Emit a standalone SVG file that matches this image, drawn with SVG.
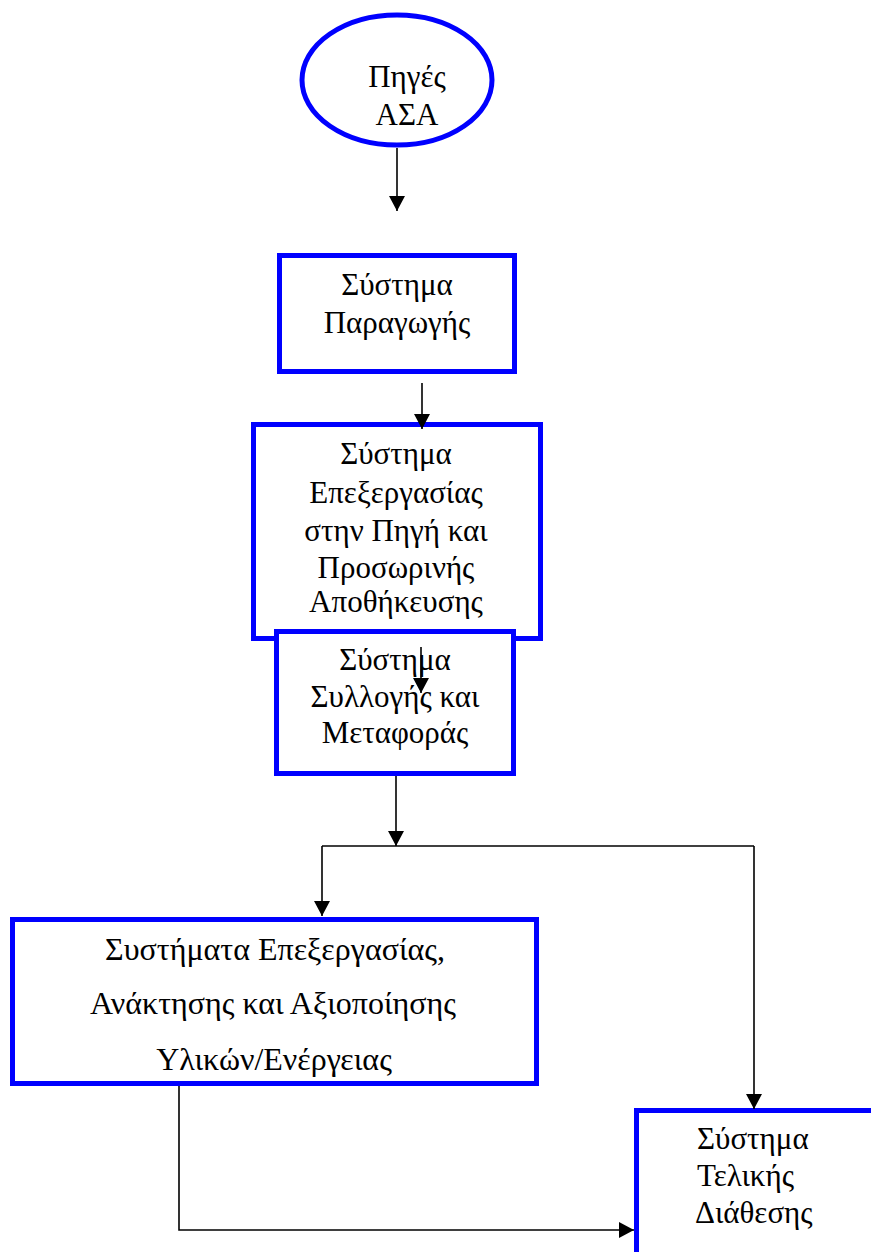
<svg xmlns="http://www.w3.org/2000/svg" width="871" height="1252" viewBox="0 0 871 1252">
<style>
.node{fill:#ffffff;stroke:#0000ff;stroke-width:5}
.t{font-family:"Liberation Serif","DejaVu Serif",serif;font-size:31px;fill:#000000;text-anchor:middle}
.big{font-size:32px}
.c{fill:none;stroke:#000000;stroke-width:1.6}
</style>
<defs>
<marker id="ah" markerUnits="userSpaceOnUse" markerWidth="16" markerHeight="16" viewBox="0 0 16 16" refX="15" refY="8" orient="auto">
<path d="M0,0 L15,8 L0,16 Z" fill="#000000"/>
</marker>
</defs>
<g id="n1">
<ellipse class="node" cx="397" cy="80" rx="95" ry="65"/>
<text class="t" x="407" y="87">Πηγές</text>
<text class="t" x="407" y="125">ΑΣΑ</text>
</g>
<g id="n2">
<rect class="node" x="279.5" y="255.5" width="235" height="116"/>
<text class="t" x="397" y="295">Σύστημα</text>
<text class="t" x="397" y="333">Παραγωγής</text>
</g>
<g id="n3">
<rect class="node" x="253.5" y="424.5" width="287" height="214"/>
<text class="t" x="396" y="464">Σύστημα</text>
<text class="t" x="396" y="503">Επεξεργασίας</text>
<text class="t" x="396" y="541">στην Πηγή και</text>
<text class="t" x="396" y="578">Προσωρινής</text>
<text class="t" x="396" y="612">Αποθήκευσης</text>
</g>
<g id="n4">
<rect class="node" x="276.5" y="631.5" width="237" height="142"/>
<text class="t" x="395" y="670">Σύστημα</text>
<text class="t" x="395" y="707">Συλλογής και</text>
<text class="t" x="395" y="743">Μεταφοράς</text>
</g>
<g id="n5">
<rect class="node" x="12.5" y="919.5" width="524" height="164"/>
<text class="t big" x="275" y="960">Συστήματα Επεξεργασίας,</text>
<text class="t big" x="273" y="1014">Ανάκτησης και Αξιοποίησης</text>
<text class="t big" x="274" y="1070">Υλικών/Ενέργειας</text>
</g>
<g id="n6">
<rect class="node" x="636.5" y="1110.5" width="245" height="200"/>
<text class="t" x="697" y="1149" style="text-anchor:start">Σύστημα</text>
<text class="t" x="697" y="1186" style="text-anchor:start">Τελικής</text>
<text class="t" x="695" y="1223" style="text-anchor:start">Διάθεσης</text>
</g>
<g id="connectors">
<path class="c" d="M397,148 L397,211" marker-end="url(#ah)"/>
<path class="c" d="M422,383 L422,429" marker-end="url(#ah)"/>
<path class="c" d="M421,647 L421,693" marker-end="url(#ah)"/>
<path class="c" d="M396,776 L396,846" marker-end="url(#ah)"/>
<path class="c" d="M322,846 L754,846"/>
<path class="c" d="M322,846 L322,916" marker-end="url(#ah)"/>
<path class="c" d="M754,846 L754,1109" marker-end="url(#ah)"/>
<path class="c" d="M179,1086 L179,1230 L634,1230" marker-end="url(#ah)"/>
</g>
</svg>
